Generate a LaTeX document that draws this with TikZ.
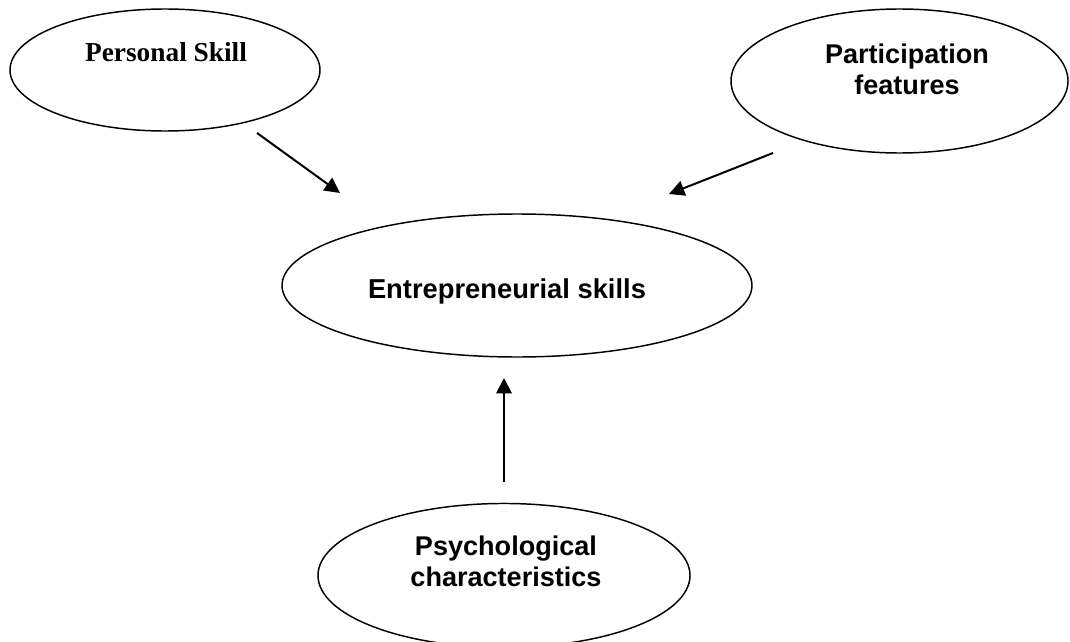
\documentclass[tikz,border=0pt]{standalone}
\usepackage{fontspec}
\setmainfont{Liberation Serif}
\newfontfamily\arialfont{Liberation Sans}
\usetikzlibrary{shapes.geometric,arrows.meta,positioning}

\begin{document}
\begin{tikzpicture}[x=0.75pt,y=-0.75pt,
        oval/.style={ellipse,draw,line width=1.1pt,inner sep=0pt},
        sanslabel/.style={font=\arialfont\bfseries\fontsize{20.3}{23.5}\selectfont,align=center},
        arr/.style={-{Triangle[length=11.5pt,width=11.5pt]},line width=1.5pt}]
        \useasboundingbox (0,0) rectangle (1070,642);

        \node[oval,minimum width=352.5pt,minimum height=107.25pt] (es) at (517,285.5) {};
        \node[oval,minimum width=232.5pt,minimum height=91.5pt] (ps) at (165,70) {};
        \node[oval,minimum width=252.75pt,minimum height=108pt] (pf) at (899.5,81) {};
        \node[oval,minimum width=279pt,minimum height=108pt] (pc) [below=108.75pt of es,xshift=-9.75pt] {};

        \node[anchor=base,font=\bfseries\fontsize{20.5}{24}\selectfont] (pstext) at (166,61.7) {Personal Skill};
        \node[sanslabel,anchor=base,font=\arialfont\bfseries\fontsize{20.5}{24}\selectfont] (estext) at (507,298.3) {Entrepreneurial skills};
        \node[sanslabel] (pftext) at (907,69.5) {Participation\\features};
        \node[sanslabel] (pctext) at (506,561) {Psychological\\characteristics};

        \coordinate (ps out) at (257,133);
        \coordinate (es in1) at (340,193);
        \coordinate (pf out) at (773,153);
        \coordinate (es in2) at (669,194);
        \coordinate (pc out) at (504,482);
        \coordinate (es in3) at (504,378);

        \draw[arr] (ps out)--(es in1);
        \draw[arr] (pf out)--(es in2);
        \draw[arr] (pc out)--(es in3);
    \end{tikzpicture}
\end{document}
